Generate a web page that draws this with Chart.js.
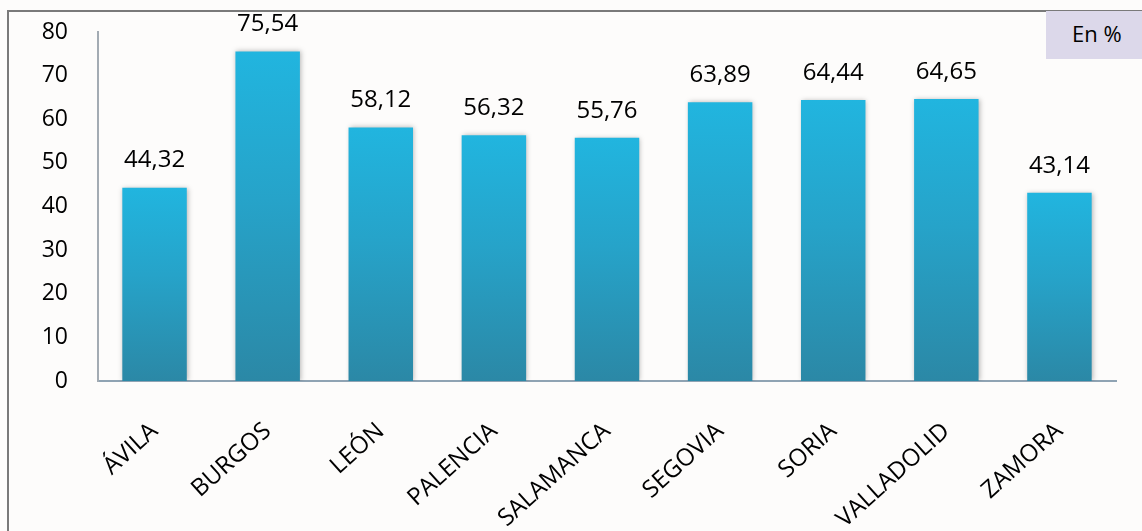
<!DOCTYPE html>
<html>
<head>
<meta charset="utf-8">
<script src="https://cdn.jsdelivr.net/npm/chart.js@4.4.1/dist/chart.umd.min.js"></script>
<style>
  html, body { margin: 0; padding: 0; background: #fdfcfb; overflow: hidden; }
  #wrap { position: relative; width: 1142px; height: 531px; overflow: hidden; }
  #frame { position: absolute; left: 7px; top: 10px; width: 1200px; height: 600px;
           border-left: 2px solid #7a7a7a; border-top: 2px solid #7a7a7a; }
  #unit { position: absolute; left: 1046px; top: 11px; width: 110px; height: 48px;
          background: #dcd8ea; font: 22px "Open Sans", sans-serif; color: #000;
          line-height: 44px; padding-left: 26px; box-sizing: border-box; }
  #chart { position: absolute; left: 0; top: 0; }
</style>
</head>
<body>
<div id="wrap">
  <div id="frame"></div>
  <canvas id="chart" width="1142" height="600"></canvas>
  <div id="unit">En %</div>
</div>
<script>
// data
const categories = ['ÁVILA', 'BURGOS', 'LEÓN', 'PALENCIA', 'SALAMANCA', 'SEGOVIA', 'SORIA', 'VALLADOLID', 'ZAMORA'];
const values = [44.32, 75.54, 58.12, 56.32, 55.76, 63.89, 64.44, 64.65, 43.14];
const yMin = 0;
const yMax = 80;
const yStep = 10;

const fontFamily = '"Open Sans", sans-serif';

// gradient for each bar, from its own top to the axis
function barGradient(context) {
  const chart = context.chart;
  const yScale = chart.scales.y;
  if (!chart.chartArea || !yScale) return '#24a6cf';
  const top = yScale.getPixelForValue(context.raw);
  const bottom = yScale.getPixelForValue(0);
  const g = chart.ctx.createLinearGradient(0, top, 0, bottom);
  g.addColorStop(0, '#21b5df');
  g.addColorStop(0.45, '#26a3c9');
  g.addColorStop(1, '#2b88a6');
  return g;
}

// soft shadow round the bars
const barShadow = {
  id: 'barShadow',
  beforeDatasetDraw(chart) {
    const ctx = chart.ctx;
    ctx.save();
    ctx.shadowColor = 'rgba(0,0,0,0.28)';
    ctx.shadowBlur = 5;
    ctx.shadowOffsetX = 1;
    ctx.shadowOffsetY = 0;
  },
  afterDatasetDraw(chart) {
    chart.ctx.restore();
  }
};

// value above each bar, with a decimal comma
const valueLabels = {
  id: 'valueLabels',
  afterDatasetsDraw(chart) {
    const ctx = chart.ctx;
    const meta = chart.getDatasetMeta(0);
    ctx.save();
    ctx.font = '24px ' + fontFamily;
    ctx.fillStyle = '#000';
    ctx.textAlign = 'center';
    ctx.textBaseline = 'middle';
    meta.data.forEach(function(bar, i) {
      const txt = values[i].toFixed(2).replace('.', ',');
      ctx.fillText(txt, bar.x, bar.y - 27);
    });
    ctx.restore();
  }
};

const ctx = document.getElementById('chart').getContext('2d');

const config = {
  type: 'bar',
  data: {
    labels: categories,
    datasets: [{
      data: values,
      backgroundColor: barGradient,
      borderWidth: 0,
      categoryPercentage: 1,
      barPercentage: 0.57
    }]
  },
  options: {
    responsive: false,
    animation: false,
    layout: {
      padding: { top: 32, right: 26, left: 0, bottom: 0 }
    },
    scales: {
      x: {
        grid: { display: false, drawTicks: false },
        border: { display: true, color: '#8fa3b3', width: 2 },
        ticks: {
          color: '#000',
          font: { family: fontFamily, size: 24 },
          minRotation: 42,
          maxRotation: 42,
          autoSkip: false,
          padding: 36
        },
        afterFit(scale) {
          scale.height = 600 - 381;
          scale.paddingLeft = 0;
          scale.paddingRight = 0;
        }
      },
      y: {
        min: yMin,
        max: yMax,
        grid: { display: false, drawTicks: false },
        border: { display: true, color: '#a3abb3', width: 2 },
        ticks: {
          stepSize: yStep,
          color: '#000',
          font: { family: fontFamily, size: 23 },
          padding: 30
        },
        afterFit(scale) {
          scale.width = 98;
          // tick padding would otherwise push the plot top down
          scale.paddingTop = 0;
          scale.paddingBottom = 0;
        }
      }
    },
    plugins: {
      legend: { display: false },
      tooltip: { enabled: false }
    }
  },
  plugins: [barShadow, valueLabels]
};

const createdChart = new Chart(ctx, config);
</script>
</body>
</html>
